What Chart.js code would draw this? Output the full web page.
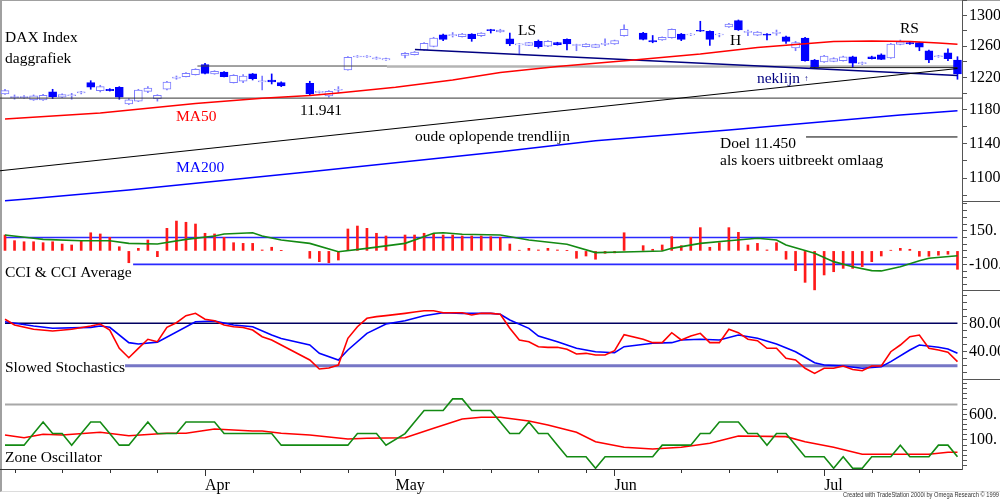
<!DOCTYPE html>
<html><head><meta charset="utf-8">
<script src="https://cdn.jsdelivr.net/npm/chart.js@4.4.1/dist/chart.umd.min.js"></script>
<style>
html,body{margin:0;padding:0;background:#fff;}
body{position:relative;width:1000px;height:500px;overflow:hidden;}
canvas{position:absolute;left:0;}
#frame{position:absolute;left:0;top:0;width:998px;height:490px;border-left:2px solid #a0a0a0;border-top:1px solid #a0a0a0;border-bottom:1px solid #dcdcdc;}
</style></head><body>
<div id="frame"></div>
<canvas id="cMain" width="1000" height="202" style="top:0px"></canvas>
<canvas id="cCci" width="1000" height="89" style="top:202px"></canvas>
<canvas id="cSto" width="1000" height="89" style="top:291px"></canvas>
<canvas id="cZone" width="1000" height="120" style="top:380px"></canvas>
<script>
// ---------------- DATA ----------------
// bar index 0..100 (trading days, Mar-Jul), null = holiday slot
const openP = [1199.4,1195.0,1195.0,1192.1,1192.0,1201.9,1195.4,1197.2,1200.6,1213.5,
1203.5,1205.2,1207.7,1187.2,1190.6,1202.6,1193.7,1205.2,1219.0,1221.0,
1223.5,1236.1,1224.4,1226.8,1213.5,1215.2,1224.4,1214.3,1216.8,1213.5,
null,null,1212.7,1201.3,1197.0,1204.0,1229.4,1245.9,1245.9,1243.4,
1242.1,null,1248.1,1248.9,1254.9,1259.7,1274.8,1273.6,1272.3,1275.7,
1273.5,1281.6,1278.4,1269.6,1261.5,1261.0,1266.2,1259.8,1264.4,1268.8,
1260.7,1259.2,1258.4,1262.3,1262.7,1273.5,null,1277.0,1267.0,1267.9,
1270.8,1275.7,1274.4,1280.7,1279.2,1274.4,1285.0,1293.4,1278.0,1274.2,
1275.7,1276.6,1272.2,1257.5,1270.5,1242.1,1239.5,1240.4,1241.2,1246.3,
1237.4,1246.3,1248.8,1244.7,1262.2,1264.4,1264.4,1254.0,1246.2,1251.4,
1242.1];
const highP = [1205.2,1198.2,1197.5,1198.2,1199.0,1205.2,1199.5,1200.2,1202.6,1215.9,
1210.2,1206.0,1208.5,1193.7,1205.2,1208.5,1198.5,1215.0,1221.8,1226.0,
1231.0,1237.9,1228.5,1227.5,1223.5,1223.5,1225.0,1221.8,1224.4,1214.5,
null,null,1215.2,1203.0,1203.5,1208.5,1246.5,1247.8,1247.8,1246.0,
1244.5,null,1251.5,1253.0,1264.5,1271.5,1275.5,1277.7,1276.5,1276.2,
1277.5,1282.0,1282.0,1277.0,1263.3,1265.0,1267.9,1267.0,1265.0,1269.6,
1262.5,1263.3,1262.5,1269.6,1267.8,1288.0,null,1277.8,1273.8,1272.0,
1282.5,1276.5,1276.3,1292.6,1280.0,1276.6,1290.0,1294.3,1281.0,1279.0,
1276.3,1281.0,1273.0,1266.2,1271.5,1242.8,1248.0,1245.0,1247.0,1247.0,
1239.5,1247.0,1250.0,1263.5,1267.9,1265.2,1265.0,1254.8,1248.0,1256.6,
1246.3];
const lowP = [1198.8,1193.0,1194.0,1191.5,1191.5,1193.7,1194.8,1192.9,1199.5,1205.2,
1201.9,1203.0,1192.9,1186.4,1190.0,1201.0,1190.6,1204.5,1217.7,1220.5,
1223.0,1224.5,1224.0,1220.5,1213.0,1213.5,1216.8,1204.3,1211.8,1208.5,
null,null,1197.8,1200.5,1195.4,1201.0,1229.0,1245.5,1245.5,1243.0,
1241.5,null,1244.7,1248.5,1254.5,1259.0,1267.0,1271.8,1271.8,1266.2,
1272.5,1277.0,1278.0,1260.6,1249.8,1260.5,1257.3,1259.3,1261.3,1254.9,
1254.0,1258.8,1258.0,1260.6,1262.2,1273.0,null,1268.0,1264.3,1267.5,
1270.3,1267.0,1273.7,1279.0,1261.0,1272.0,1284.5,1280.5,1273.5,1273.7,
1267.9,1274.1,1263.6,1254.0,1240.5,1231.1,1239.0,1239.8,1240.6,1232.8,
1236.3,1243.3,1242.5,1244.2,1261.6,1262.0,1254.0,1238.7,1245.5,1241.2,
1217.7];
const closeP = [1203.5,1196.3,1196.3,1197.0,1197.8,1196.1,1198.6,1198.5,1201.9,1207.7,
1208.5,1203.5,1195.4,1192.1,1204.3,1206.8,1197.8,1214.3,1220.3,1225.2,
1230.3,1225.2,1227.8,1221.0,1222.7,1221.8,1218.4,1215.6,1214.3,1209.3,
null,null,1199.4,1202.6,1202.7,1205.3,1245.6,1247.2,1247.2,1244.7,
1243.8,null,1250.7,1252.3,1263.6,1270.5,1268.8,1274.9,1275.7,1269.6,
1277.0,1280.3,1281.0,1262.7,1262.8,1264.4,1259.2,1266.2,1261.8,1262.7,
1262.0,1262.7,1261.8,1263.6,1267.0,1281.9,null,1268.8,1265.3,1271.4,
1281.9,1268.8,1275.7,1279.4,1268.8,1275.7,1289.0,1281.0,1279.3,1278.4,
1274.1,1277.9,1266.2,1264.4,1241.2,1233.6,1247.2,1243.8,1246.3,1237.9,
1238.7,1243.8,1242.9,1262.7,1265.6,1262.7,1258.5,1242.1,1247.5,1243.8,
1224.4];

// moving averages (read points: bar index -> value)
const ma50Idx = [0,10,20,27,32,35,41,47,52,58,66,73,79,83,87,91,95,98,100];
const ma50 = [1168.9,1176.1,1187.7,1194.1,1197.5,1200.6,1207.7,1216.8,1226.2,1233.8,1242.1,1249.8,1258.2,1262.0,1265.9,1266.6,1265.9,1264.0,1262.3];
const ma200Idx = [0,2,13,32,52,62,76,94,100];
const ma200 = [1074.5,1076.2,1086.6,1107.2,1130.2,1143.0,1155.8,1173.7,1178.9];

// drawn lines (index, value)
const trendIdx = [-0.525,100]; const trendVal = [1108.3,1231.3];
const neckIdx = [43.04,100]; const neckVal = [1255.6,1222.4];
const supportIdx = [-0.525,100.475]; const supportVal = [1194.3,1194.3];
const topBlackIdx = [20.2,40.1]; const topBlackVal = [1234.4,1234.4];
const topGrayIdx = [40.1,100]; const topGrayVal = [1233.8,1233.8];
const rightBlackIdx = [84.5,100]; const rightBlackVal = [1232.4,1232.4];
const targetIdx = [84.1,100]; const targetVal = [1147.5,1147.5];

// CCI histogram and average
const cci = [118,76,68,68,61,68,51,44,76,135,
126,101,31,-88,19,81,-43,168,222,213,
200,131,126,101,61,56,56,7,27,2,
null,null,-55,-80,-88,-68,163,185,168,131,
111,null,118,118,131,131,118,118,111,111,
111,106,101,51,5,19,7,19,7,2,
-55,-38,-62,-18,-15,135,null,39,12,44,
106,39,101,173,27,61,173,138,44,56,
7,61,-62,-147,-234,-290,-179,-155,-130,-130,
-117,-80,-38,5,19,12,-40,-40,-32,-25,-137];
const cciAvgIdx = [0,3,4,8,11,13,16,19,22,23,26,27,29,32,35,38,42,45,46,48,52,55,59,62,66,69,70,73,76,79,81,82,85,87,89,91,92,94,96,97,100];
const cciAvg = [118,94,86,76,76,56,51,86,111,126,135,111,81,56,-6,19,56,131,135,124,118,81,49,-13,-6,-1,19,56,76,94,81,44,-18,-80,-118,-147,-149,-118,-73,-55,-36];
const cciUpper = [100,100]; const cciUpperIdx = [0,100];
const cciLower = [-100,-100]; const cciLowerIdx = [13.45,100];

// Slowed stochastics
const stoKIdx = [0,1,3,5,7,9,10,11,12,13,14,15,16,17,18,19,20,21,22,23,24,25,26,27,28,29,32,33,34,35,36,37,38,39,40,42,43,44,45,46,47,48,49,50,51,52,53,54,55,56,57,58,59,60,61,62,63,64,65,67,68,69,70,71,72,73,74,75,76,77,78,79,80,81,82,83,84,85,86,87,88,89,90,91,92,93,94,95,96,97,98,99,100];
const stoK = [85.7,77.6,71.5,69.1,71.5,76.2,79,70.5,44.6,31.3,44.6,57.4,54,74.3,80.8,90.8,94.1,85.7,83.7,77.6,75.2,74,70.5,61,56.4,49.3,28.1,15.3,16.7,21,58.8,75.2,87.1,89.4,90.8,94.1,96,97.8,97.8,95,95,95,91.7,94.1,94.1,92.7,72.9,56.4,54,46.9,46,46,43.2,36.6,37.5,35.1,35.1,41.2,63.9,57.4,52.6,52.6,66.7,56.4,62,65.8,52.6,52.6,71.5,66.7,57.4,55.4,44.6,44.6,30.5,28.1,16.3,9.2,16.3,16.3,19.6,14.5,12.9,19.6,19.6,39.8,49.3,61,63.4,44.6,42.2,39,25.7];
const stoDIdx = [0,3,5,9,10,11,13,14,16,20,22,24,26,28,29,32,33,35,36,38,40,42,44,46,48,51,52,53,55,56,58,60,62,64,65,68,70,71,73,75,77,79,81,83,85,86,88,90,92,93,95,96,98,99,100];
const stoD = [82.3,76.2,72.9,74.3,76.2,74.3,52.6,50.7,53.3,82.3,83.3,77.6,75.2,63.4,58.5,49.3,37.5,28.1,42.2,65.8,79,83.7,90.8,95,94.1,94.1,92.7,84.7,72.9,62,54,44.6,39.8,38.4,46.9,51.7,52.6,56.4,57.4,56.4,63.4,58.8,50.7,39.8,24.3,21,19.6,16.3,18.6,25.7,42.2,49.3,46,43.6,37.5];
const stoHiIdx = [0,100]; const stoHi = [80,80];
const stoLoIdx = [12.6,100]; const stoLo = [20,20];

// Zone oscillator
const zone = [0,0,0,225,450,225,225,0,225,450,
450,225,0,0,225,450,225,225,225,450,
450,450,450,225,225,225,225,225,225,0,
null,null,0,0,0,0,0,225,225,225,
0,null,225,450,675,675,675,900,900,675,
675,675,450,225,225,450,225,225,0,-225,
-225,-225,-450,-225,-225,-225,null,-225,-225,0,
0,0,0,225,225,450,450,450,225,225,
0,225,225,0,-225,-225,-225,-450,-225,-450,
-450,-225,-225,-225,0,-225,-225,-225,0,0,-225];
const zoneAvgIdx = [0,2,4,6,10,13,17,19,22,26,27,29,32,36,38,42,45,48,50,52,55,57,60,62,65,68,71,74,77,82,84,87,90,94,97,99,100];
const zoneAvg = [197,145,211,197,250,184,230,230,314,275,275,230,197,119,133,145,327,509,542,542,470,392,250,67,-42,-75,-42,36,178,165,67,-42,-178,-178,-178,-139,-139];
const zoneLevelIdx = [0,100]; const zoneLevel = [790,790];

// axis ticks and labels
const mainTicks = [1080,1100,1120,1140,1160,1180,1200,1220,1240,1260,1280,1300,1320];
const mainLabels = {1100:'1100',1140:'1140',1180:'1180',1220:'1220',1260:'1260',1300:'1300'};
const cciTicks = [-250,-200,-150,-100,-50,0,50,100,150,200,250,300,350];
const cciLabels = {150:'150.', '-100':'-100.'};
const stoTicks = [0,10,20,30,40,50,60,70,80,90,100,110,120];
const stoLabels = {80:'80.00', 40:'40.00'};
const zoneTicks = [-400,-300,-200,-100,0,100,200,300,400,500,600,700,800,900,1000,1100,1200];
const zoneLabels = {600:'600.', 100:'100.'};
const monthIdx = [21,41,64,86];
const monthNames = ['Apr','May','Jun','Jul'];
const weekIdx = [1,6,11,16,26,31,36,46,51,56,61,71,76,81,91,96];

// ---------------- HELPERS ----------------
const FONT = "'Liberation Serif','Times New Roman',serif";
const XMIN = -0.525, XMAX = 100.475;
const BLUE = '#0000ff', LIGHT = '#7c7cff';
const pts = (xs, ys) => xs.map((x, k) => (ys[k] == null ? null : {x, y: ys[k]})).filter(p => p);
const ser = arr => arr.map((v, i) => (v == null ? null : {x: i, y: v})).filter(p => p);
const isUp = c => { const r = c.raw; if (!r) return true; return closeP[r.x] >= openP[r.x]; };

function line(data, color, width, extra) {
  return Object.assign({type:'line', data, borderColor:color, backgroundColor:color, borderWidth:width,
    pointRadius:0, fill:false, tension:0, spanGaps:true, order:0}, extra || {});
}
function yAxis(type, min, max, ticks, labels) {
  return {
    type, position:'right', min, max, beginAtZero:false,
    afterBuildTicks: s => { s.ticks = ticks.map(v => ({value:v})); },
    afterFit: s => { s.width = 38; s.paddingTop = 0; s.paddingBottom = 0; },
    ticks: { callback: v => (labels[v] !== undefined ? labels[v] : ''), font:{family:FONT, size:16}, color:'#000', padding:2, autoSkip:false, maxRotation:0 },
    grid: { drawOnChartArea:false, drawTicks:true, tickLength:5, color:'#555' },
    border: { display:true, color:'#555', width:1 }
  };
}
const xHidden = { type:'linear', min:XMIN, max:XMAX, display:false, offset:false, grid:{offset:false} };

function notesPlugin(notes) {
  return { id:'notes', afterDatasetsDraw(chart) {
    const {ctx, scales:{x, y}} = chart;
    ctx.save();
    ctx.textBaseline = 'middle'; ctx.textAlign = 'left';
    notes.forEach(n => {
      ctx.font = (n.size || 15.5) + 'px ' + FONT;
      ctx.fillStyle = n.color || '#000';
      ctx.fillText(n.t, x.getPixelForValue(n.i), y.getPixelForValue(n.v));
    });
    ctx.restore();
  }};
}
const sepPlugin = { id:'sep', afterDraw(chart) {
  const {ctx, chartArea:a} = chart;
  ctx.save(); ctx.strokeStyle = '#555'; ctx.lineWidth = 1;
  ctx.beginPath(); ctx.moveTo(a.right, a.bottom - 0.5); ctx.lineTo(chart.width, a.bottom - 0.5); ctx.stroke();
  ctx.restore();
}};

function makeChart(id, datasets, y, x, plugins) {
  return new Chart(document.getElementById(id), {
    type:'line',
    data:{ datasets },
    options:{
      responsive:false, animation:false, events:[],
      layout:{ padding:0, autoPadding:false },
      plugins:{ legend:{display:false}, tooltip:{enabled:false}, title:{display:false} },
      scales:{ x, y }
    },
    plugins
  });
}

// ---------------- MAIN PANEL ----------------
const candleIdx = openP.map((v, i) => (v == null ? null : i)).filter(i => i !== null);
makeChart('cMain', [
  line(pts(ma50Idx, ma50), '#ff0000', 1.6),
  line(pts(ma200Idx, ma200), '#0000ff', 1.6),
  line(pts(trendIdx, trendVal), '#000000', 1.1),
  line(pts(neckIdx, neckVal), '#000080', 1.5),
  line(pts(supportIdx, supportVal), '#333333', 1),
  line(pts(topBlackIdx, topBlackVal), '#444444', 1),
  line(pts(topGrayIdx, topGrayVal), '#b4b4b4', 2.5, {order:3}),
  line(pts(rightBlackIdx, rightBlackVal), '#222222', 1),
  line(pts(targetIdx, targetVal), '#000000', 1),
  { type:'bar', data: candleIdx.map(i => ({x:i, y:[openP[i], closeP[i]]})), grouped:false, barThickness:8,
    borderWidth:1, borderSkipped:false, order:1,
    backgroundColor: c => (isUp(c) ? '#ffffff' : BLUE), borderColor: c => (isUp(c) ? LIGHT : BLUE) },
  { type:'bar', data: candleIdx.map(i => ({x:i, y:[lowP[i], highP[i]]})), grouped:false, barThickness:1,
    borderWidth:0, order:2, backgroundColor: c => (isUp(c) ? LIGHT : BLUE) }
], yAxis('logarithmic', 1073.2, 1321.2, mainTicks, mainLabels), xHidden, [
  notesPlugin([
    {t:'DAX Index', i:0, v:1270.5},
    {t:'daggrafiek', i:0, v:1243.4},
    {t:'MA50', i:17.95, v:1171.3, color:'#ff0000'},
    {t:'11.941', i:30.97, v:1179.2},
    {t:'oude oplopende trendlijn', i:43.04, v:1148.0},
    {t:'MA200', i:17.95, v:1111.4, color:'#0000ff'},
    {t:'LS', i:53.86, v:1280.4},
    {t:'H', i:76.12, v:1267.2},
    {t:'RS', i:93.96, v:1283.0},
    {t:'neklijn', i:78.95, v:1218.0, color:'#000080'},
    {t:'\u2191', i:83.9, v:1218.3, color:'#000080', size:8},
    {t:'Doel 11.450', i:75.07, v:1139.2},
    {t:'als koers uitbreekt omlaag', i:75.07, v:1120.0}
  ]), sepPlugin]);

// ---------------- CCI PANEL ----------------
makeChart('cCci', [
  line(pts(cciAvgIdx, cciAvg), '#138a13', 1.6),
  line(pts(cciUpperIdx, cciUpper), '#2a2aff', 1.6, {order:2}),
  line(pts(cciLowerIdx, cciLower), '#2a2aff', 1.6, {order:2}),
  { type:'bar', data: ser(cci), grouped:false, barThickness:2, borderWidth:0, backgroundColor:'#ff1a1a', order:1 }
], yAxis('linear', -298.4, 363.8, cciTicks, cciLabels), xHidden, [
  notesPlugin([{t:'CCI & CCI Average', i:0, v:-164}]), sepPlugin]);

// ---------------- STOCHASTICS PANEL ----------------
makeChart('cSto', [
  line(pts(stoHiIdx, stoHi), '#000060', 1.5, {order:3}),
  line(pts(stoLoIdx, stoLo), '#7676c6', 3, {order:3}),
  line(pts(stoDIdx, stoD), '#0000ff', 1.6, {order:1}),
  line(pts(stoKIdx, stoK), '#ff0000', 1.6, {order:0})
], yAxis('linear', -0.23, 125.7, stoTicks, stoLabels), xHidden, [
  notesPlugin([{t:'Slowed Stochastics', i:0, v:17.5}]), sepPlugin]);

// ---------------- ZONE OSCILLATOR PANEL ----------------
const xBottom = {
  type:'linear', min:XMIN, max:XMAX, position:'bottom', offset:false,
  afterBuildTicks: s => { s.ticks = monthIdx.map(v => ({value:v})); },
  afterFit: s => { s.height = 31; s.paddingLeft = 0; s.paddingRight = 0; },
  ticks: { callback: v => { const k = monthIdx.indexOf(v); return k >= 0 ? monthNames[k] : ''; },
    align:'start', font:{family:FONT, size:16}, color:'#000', padding:0, autoSkip:false, maxRotation:0, minRotation:0 },
  grid: { drawOnChartArea:false, drawTicks:true, tickLength:7, color:'#333', offset:false },
  border: { display:true, color:'#333', width:1 }
};
const weekTicks = { id:'weekTicks', afterDraw(chart) {
  const {ctx, chartArea:a, scales:{x}} = chart;
  ctx.save(); ctx.strokeStyle = '#333'; ctx.lineWidth = 1;
  weekIdx.forEach(i => { const px = Math.round(x.getPixelForValue(i)) + 0.5;
    ctx.beginPath(); ctx.moveTo(px, a.bottom); ctx.lineTo(px, a.bottom + 4); ctx.stroke(); });
  ctx.font = "7.5px 'Liberation Sans', Arial, sans-serif"; ctx.fillStyle = '#333';
  ctx.textBaseline = 'middle'; ctx.textAlign = 'left';
  ctx.fillText('Created with TradeStation 2000i by Omega Research \u00a9 1999', 843, 115, 156);
  ctx.restore();
}};
makeChart('cZone', [
  line(pts(zoneLevelIdx, zoneLevel), '#a8a8a8', 2, {order:3}),
  line(pts(zoneAvgIdx, zoneAvg), '#ff0000', 1.6, {order:1}),
  line(ser(zone), '#138a13', 1.6, {order:0})
], yAxis('linear', -464.2, 1267.3, zoneTicks, zoneLabels), xBottom, [
  notesPlugin([{t:'Zone Oscillator', i:0, v:-244}]), weekTicks]);
</script>
</body></html>
